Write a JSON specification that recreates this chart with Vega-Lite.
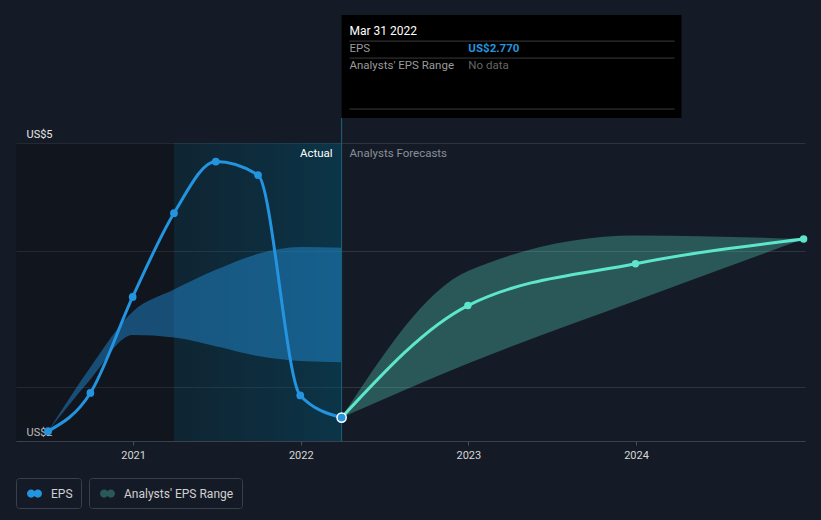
{
  "$schema": "https://vega.github.io/schema/vega-lite/v6.json",
  "width": 789,
  "height": 426,
  "autosize": {"type": "none"},
  "padding": {"left": 16, "top": 15, "right": 16, "bottom": 79},
  "background": "#151b26",
  "config": {
    "view": {"stroke": null},
    "font": "Roboto",
    "text": {"font": "Roboto"}
  },
  "datasets": {
    "regions": [
      {"start": "2020-04-21", "end": "2021-03-31", "lo": 2.58, "hi": 5, "region": "past"},
      {"start": "2021-03-31", "end": "2022-03-31", "lo": 2.58, "hi": 5, "region": "actual"}
    ],
    "eps": [
      {"date": "2020-06-30", "eps": 2.66},
      {"date": "2020-09-30", "eps": 2.97},
      {"date": "2020-12-31", "eps": 3.75},
      {"date": "2021-03-31", "eps": 4.43},
      {"date": "2021-06-30", "eps": 4.85},
      {"date": "2021-09-30", "eps": 4.74},
      {"date": "2021-12-31", "eps": 2.95},
      {"date": "2022-03-31", "eps": 2.77}
    ],
    "band": [
      {"date": "2020-06-30", "lo": 2.66, "hi": 2.66},
      {"date": "2020-09-30", "lo": 3.08, "hi": 3.18},
      {"date": "2020-12-31", "lo": 3.44, "hi": 3.63},
      {"date": "2021-03-31", "lo": 3.42, "hi": 3.81},
      {"date": "2021-06-30", "lo": 3.35, "hi": 3.97},
      {"date": "2021-09-30", "lo": 3.27, "hi": 4.1},
      {"date": "2021-12-31", "lo": 3.23, "hi": 4.155},
      {"date": "2022-03-31", "lo": 3.22, "hi": 4.15}
    ],
    "fc": [
      {"date": "2022-03-31", "eps": 2.77, "lo": 2.77, "hi": 2.77},
      {"date": "2022-12-31", "eps": 3.68, "lo": 3.21, "hi": 3.96},
      {"date": "2023-12-31", "eps": 4.02, "lo": 3.72, "hi": 4.25},
      {"date": "2024-12-31", "eps": 4.22, "lo": 4.22, "hi": 4.22}
    ],
    "marker": [{"date": "2022-03-31", "lo": 2.58, "hi": 5.203}],
    "tip": [{"x1": "2022-03-31", "x2": "2024-04-09", "y1": 5.203, "y2": 6.04}],
    "tipLines": [
      {"x1": "2022-04-17", "x2": "2024-03-25", "y": 5.828},
      {"x1": "2022-04-17", "x2": "2024-03-25", "y": 5.69},
      {"x1": "2022-04-17", "x2": "2024-03-25", "y": 5.276}
    ],
    "tipText": [
      {"date": "2022-04-17", "y": 5.91, "text": "Mar 31 2022", "role": "title"},
      {"date": "2022-04-17", "y": 5.763, "text": "EPS", "role": "label"},
      {"date": "2023-01-01", "y": 5.763, "text": "US$2.770", "role": "value"},
      {"date": "2022-04-17", "y": 5.625, "text": "Analysts' EPS Range", "role": "label"},
      {"date": "2023-01-01", "y": 5.625, "text": "No data", "role": "nodata"}
    ],
    "notes": [
      {"date": "2022-03-31", "y": 4.911, "text": "Actual", "side": "left"},
      {"date": "2022-03-31", "y": 4.911, "text": "Analysts Forecasts", "side": "right"}
    ]
  },
  "layer": [
    {
      "data": {"name": "regions"},
      "transform": [{"filter": "datum.region == 'past'"}],
      "mark": {"type": "rect", "fill": "#000000", "opacity": 0.2},
      "encoding": {
        "x": {
          "field": "start", "type": "temporal", "title": null,
          "scale": {"type": "utc", "domain": [{"year": 2020, "month": 4, "date": 21, "utc": true}, {"year": 2025, "month": 1, "date": 3, "utc": true}]},
          "axis": {
            "values": [{"year": 2021, "month": 1, "date": 1, "utc": true}, {"year": 2022, "month": 1, "date": 1, "utc": true}, {"year": 2023, "month": 1, "date": 1, "utc": true}, {"year": 2024, "month": 1, "date": 1, "utc": true}],
            "format": "%Y", "grid": false, "domainColor": "#3b414b", "tickColor": "#4a505a", "tickSize": 4,
            "labelColor": "#d6d6d6", "labelFontSize": 11, "labelPadding": 4, "labelFont": "Roboto"
          }
        },
        "x2": {"field": "end"},
        "y": {
          "field": "lo", "type": "quantitative", "title": null,
          "scale": {"domain": [2.58, 6.04], "nice": false, "zero": false},
          "axis": {
            "values": [2.58, 3.02, 4.12, 5],
            "labelExpr": "datum.value == 5 ? 'US$5' : (datum.value < 2.6 ? 'US$2' : '')",
            "grid": true, "gridColor": "#2e343e", "domain": false, "ticks": false, "tickSize": 0,
            "labelAlign": "left", "labelPadding": -10, "labelOffset": -6, "labelBaseline": "alphabetic",
            "labelColor": "#e6e6e6", "labelFontSize": 11, "labelFont": "Roboto"
          }
        },
        "y2": {"field": "hi"}
      }
    },
    {
      "data": {"name": "regions"},
      "transform": [{"filter": "datum.region == 'actual'"}],
      "mark": {
        "type": "rect",
        "fill": {"gradient": "linear", "x1": 0, "y1": 0, "x2": 1, "y2": 0,
          "stops": [{"offset": 0, "color": "rgba(0,60,80,0.3)"}, {"offset": 1, "color": "rgba(0,85,115,0.45)"}]}
      },
      "encoding": {
        "x": {"field": "start", "type": "temporal", "title": null},
        "x2": {"field": "end"},
        "y": {"field": "lo", "type": "quantitative", "title": null},
        "y2": {"field": "hi"}
      }
    },
    {
      "data": {"name": "band"},
      "mark": {"type": "area", "interpolate": "monotone", "fill": "#2394df", "opacity": 0.45},
      "encoding": {
        "x": {"field": "date", "type": "temporal", "title": null},
        "y": {"field": "hi", "type": "quantitative", "title": null},
        "y2": {"field": "lo"}
      }
    },
    {
      "data": {"name": "marker"},
      "mark": {"type": "rule", "color": "#1e6275", "strokeWidth": 1},
      "encoding": {
        "x": {"field": "date", "type": "temporal", "title": null},
        "y": {"field": "lo", "type": "quantitative", "title": null},
        "y2": {"field": "hi"}
      }
    },
    {
      "data": {"name": "eps"},
      "mark": {"type": "line", "interpolate": "monotone", "strokeWidth": 3},
      "encoding": {
        "x": {"field": "date", "type": "temporal", "title": null},
        "y": {"field": "eps", "type": "quantitative", "title": null},
        "color": {
          "datum": "EPS", "type": "nominal",
          "scale": {"range": ["#2394df"]},
          "legend": {
            "title": null, "orient": "bottom", "direction": "horizontal",
            "symbolType": "M-1,0a0.55,0.55 0 1,0 1.1,0a0.55,0.55 0 1,0 -1.1,0M-0.1,0a0.55,0.55 0 1,0 1.1,0a0.55,0.55 0 1,0 -1.1,0",
            "symbolSize": 225, "symbolFillColor": "#2394df", "symbolStrokeWidth": 0, "symbolOpacity": 1,
            "fillColor": "#151b26", "strokeColor": "#3a404b", "cornerRadius": 3,
            "padding": 8, "labelColor": "#d0d0d0", "labelFontSize": 12, "labelFont": "Roboto", "symbolOffset": 3, "labelOffset": 9
          }
        }
      }
    },
    {
      "data": {"name": "fc"},
      "mark": {"type": "area", "interpolate": "monotone", "opacity": 1},
      "encoding": {
        "x": {"field": "date", "type": "temporal", "title": null},
        "y": {"field": "hi", "type": "quantitative", "title": null},
        "y2": {"field": "lo"},
        "fill": {
          "datum": "Analysts' EPS Range", "type": "nominal",
          "scale": {"range": ["rgba(94,230,204,0.3)"]},
          "legend": {
            "title": null, "orient": "bottom", "direction": "horizontal",
            "symbolType": "M-1,0a0.55,0.55 0 1,0 1.1,0a0.55,0.55 0 1,0 -1.1,0M-0.1,0a0.55,0.55 0 1,0 1.1,0a0.55,0.55 0 1,0 -1.1,0",
            "symbolSize": 225, "symbolStrokeWidth": 0, "symbolOpacity": 1,
            "fillColor": "#151b26", "strokeColor": "#3a404b", "cornerRadius": 3,
            "padding": 8, "labelColor": "#d0d0d0", "labelFontSize": 12, "labelFont": "Roboto", "symbolOffset": 3, "labelOffset": 9
          }
        }
      }
    },
    {
      "data": {"name": "eps"},
      "mark": {"type": "circle", "size": 60, "color": "#2394df", "opacity": 1},
      "encoding": {
        "x": {"field": "date", "type": "temporal", "title": null},
        "y": {"field": "eps", "type": "quantitative", "title": null}
      }
    },
    {
      "data": {"name": "fc"},
      "mark": {"type": "line", "interpolate": "monotone", "strokeWidth": 3, "color": "#5ee6cc"},
      "encoding": {
        "x": {"field": "date", "type": "temporal", "title": null},
        "y": {"field": "eps", "type": "quantitative", "title": null}
      }
    },
    {
      "data": {"name": "fc"},
      "transform": [{"filter": "datum.lo != 2.77"}],
      "mark": {"type": "circle", "size": 55, "color": "#5ee6cc", "opacity": 1},
      "encoding": {
        "x": {"field": "date", "type": "temporal", "title": null},
        "y": {"field": "eps", "type": "quantitative", "title": null}
      }
    },
    {
      "data": {"name": "fc"},
      "transform": [{"filter": "datum.lo == 2.77"}],
      "mark": {"type": "point", "filled": true, "shape": "circle", "size": 85, "fill": "#2394df", "stroke": "#ffffff", "strokeWidth": 1.5, "opacity": 1},
      "encoding": {
        "x": {"field": "date", "type": "temporal", "title": null},
        "y": {"field": "eps", "type": "quantitative", "title": null}
      }
    },
    {
      "data": {"name": "tip"},
      "mark": {"type": "rect", "fill": "#000000"},
      "encoding": {
        "x": {"field": "x1", "type": "temporal", "title": null},
        "x2": {"field": "x2"},
        "y": {"field": "y1", "type": "quantitative", "title": null},
        "y2": {"field": "y2"}
      }
    },
    {
      "data": {"name": "tipLines"},
      "mark": {"type": "rule", "color": "#3a3a3a", "strokeWidth": 1},
      "encoding": {
        "x": {"field": "x1", "type": "temporal", "title": null},
        "x2": {"field": "x2"},
        "y": {"field": "y", "type": "quantitative", "title": null}
      }
    },
    {
      "data": {"name": "tipText"},
      "transform": [{"filter": "datum.role == 'title'"}],
      "mark": {"type": "text", "align": "left", "baseline": "middle", "fontSize": 12, "color": "#ffffff", "font": "Roboto"},
      "encoding": {
        "x": {"field": "date", "type": "temporal", "title": null},
        "y": {"field": "y", "type": "quantitative", "title": null},
        "text": {"field": "text"}
      }
    },
    {
      "data": {"name": "tipText"},
      "transform": [{"filter": "datum.role == 'label'"}],
      "mark": {"type": "text", "align": "left", "baseline": "middle", "fontSize": 11.5, "color": "#9a9a9a", "font": "Roboto"},
      "encoding": {
        "x": {"field": "date", "type": "temporal", "title": null},
        "y": {"field": "y", "type": "quantitative", "title": null},
        "text": {"field": "text"}
      }
    },
    {
      "data": {"name": "tipText"},
      "transform": [{"filter": "datum.role == 'value'"}],
      "mark": {"type": "text", "align": "left", "baseline": "middle", "fontSize": 11.5, "fontWeight": "bold", "color": "#2394df", "font": "Roboto"},
      "encoding": {
        "x": {"field": "date", "type": "temporal", "title": null},
        "y": {"field": "y", "type": "quantitative", "title": null},
        "text": {"field": "text"}
      }
    },
    {
      "data": {"name": "tipText"},
      "transform": [{"filter": "datum.role == 'nodata'"}],
      "mark": {"type": "text", "align": "left", "baseline": "middle", "fontSize": 11.5, "color": "#666666", "font": "Roboto"},
      "encoding": {
        "x": {"field": "date", "type": "temporal", "title": null},
        "y": {"field": "y", "type": "quantitative", "title": null},
        "text": {"field": "text"}
      }
    },
    {
      "data": {"name": "notes"},
      "transform": [{"filter": "datum.side == 'left'"}],
      "mark": {"type": "text", "align": "right", "baseline": "middle", "dx": -9, "fontSize": 11.5, "color": "#ffffff", "font": "Roboto"},
      "encoding": {
        "x": {"field": "date", "type": "temporal", "title": null},
        "y": {"field": "y", "type": "quantitative", "title": null},
        "text": {"field": "text"}
      }
    },
    {
      "data": {"name": "notes"},
      "transform": [{"filter": "datum.side == 'right'"}],
      "mark": {"type": "text", "align": "left", "baseline": "middle", "dx": 8, "fontSize": 11.5, "color": "#8a8f98", "font": "Roboto"},
      "encoding": {
        "x": {"field": "date", "type": "temporal", "title": null},
        "y": {"field": "y", "type": "quantitative", "title": null},
        "text": {"field": "text"}
      }
    }
  ]
}
